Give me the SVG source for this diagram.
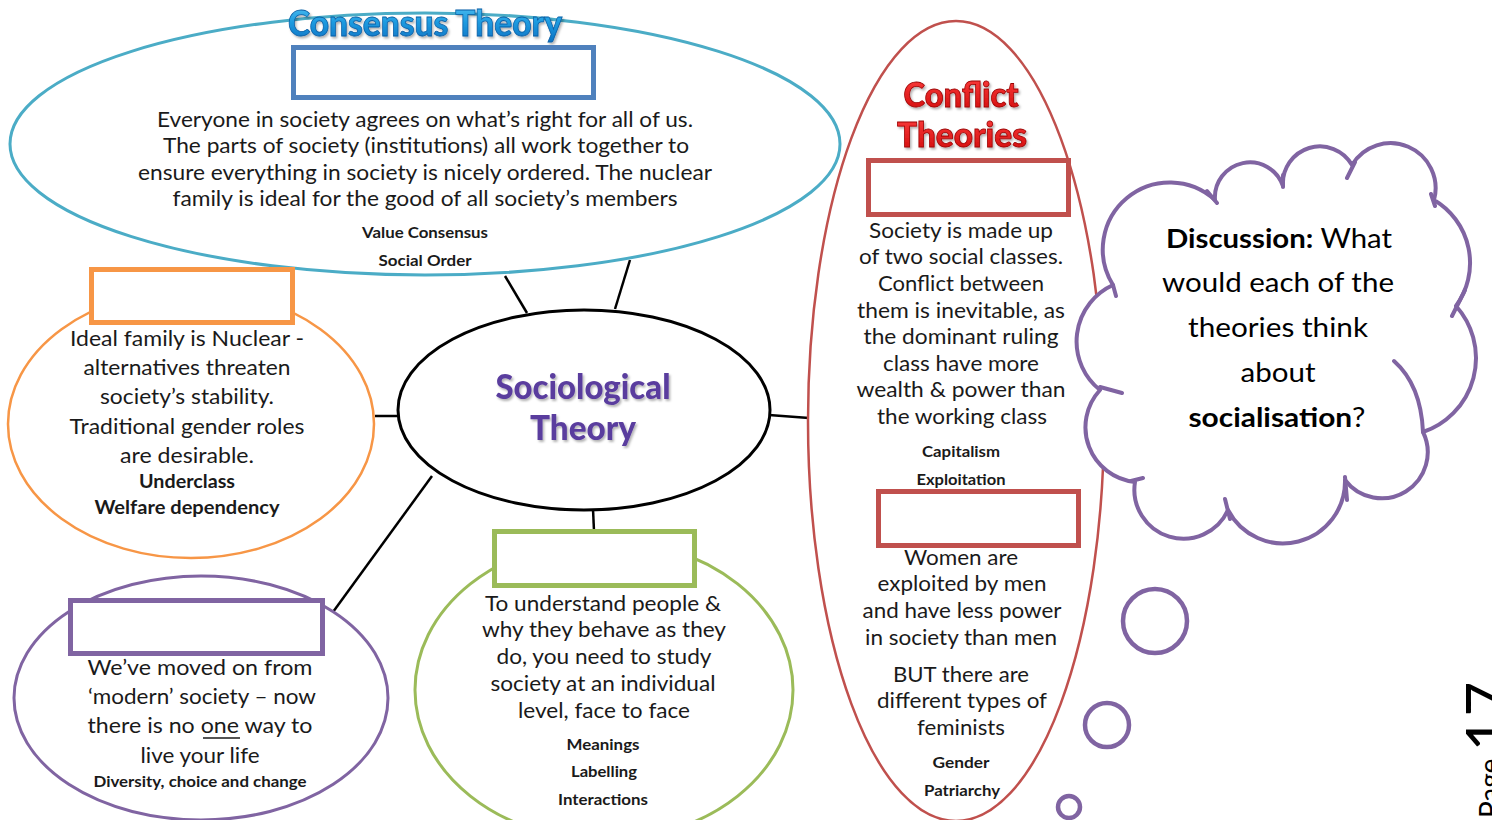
<svg xmlns="http://www.w3.org/2000/svg" width="1492" height="820" viewBox="0 0 1492 820">
<defs>
<linearGradient id="gBlue" x1="0" y1="0" x2="0" y2="1"><stop offset="0" stop-color="#5CC8F5"/><stop offset="0.5" stop-color="#1E9BE0"/><stop offset="1" stop-color="#0A6FC0"/></linearGradient>
<linearGradient id="gRed" x1="0" y1="0" x2="0" y2="1"><stop offset="0" stop-color="#FF4040"/><stop offset="1" stop-color="#D00A0A"/></linearGradient>
<filter id="sh" x="-10%" y="-20%" width="120%" height="150%"><feDropShadow dx="1.5" dy="2" stdDeviation="1" flood-color="#000" flood-opacity="0.3"/></filter>
</defs>
<style>
text{font-family:Lato,"Liberation Sans",sans-serif;text-anchor:middle;fill:#1a1a1a}
.t{font-size:22px}
.s{font-size:16px;font-weight:bold}
.box{fill:#fff;stroke-width:5}
.ell{fill:#fff}
.con line{stroke:#000;stroke-width:2.5}
.cl{fill:none;stroke:#8064A2;stroke-width:4;stroke-linecap:round;stroke-linejoin:round}
.h{font-weight:900;font-size:34px}
</style>
<rect width="1492" height="820" fill="#fff"/>

<g id="connectors" class="con">
<line x1="505" y1="276" x2="527" y2="313"/>
<line x1="630" y1="260" x2="615" y2="309"/>
<line x1="375" y1="416" x2="399" y2="416"/>
<line x1="769" y1="415" x2="809" y2="418"/>
<line x1="593" y1="509" x2="594" y2="531"/>
<line x1="432" y1="476" x2="333" y2="612"/>
</g>

<g id="consensus">
<ellipse class="ell" cx="425" cy="144" rx="415" ry="131" stroke="#4BACC6" stroke-width="3"/>
<text class="h" x="425" y="36" textLength="274" lengthAdjust="spacingAndGlyphs" stroke="#0B5FA5" stroke-width="0.8" filter="url(#sh)" style="fill:url(#gBlue);font-size:36px">Consensus Theory</text>
<rect class="box" x="293.5" y="47.5" width="300" height="50" stroke="#4F81BD"/>
<text class="t" x="425" y="127" textLength="536" lengthAdjust="spacingAndGlyphs">Everyone in society agrees on what’s right for all of us.</text>
<text class="t" x="426" y="153" textLength="526" lengthAdjust="spacingAndGlyphs">The parts of society (institutions) all work together to</text>
<text class="t" x="425" y="180" textLength="574" lengthAdjust="spacingAndGlyphs">ensure everything in society is nicely ordered. The nuclear</text>
<text class="t" x="425" y="206" textLength="505" lengthAdjust="spacingAndGlyphs">family is ideal for the good of all society’s members</text>
<text class="s" x="425" y="238" textLength="126" lengthAdjust="spacingAndGlyphs">Value Consensus</text>
<text class="s" x="425" y="266" textLength="93" lengthAdjust="spacingAndGlyphs">Social Order</text>
</g>

<g id="new-right">
<ellipse class="ell" cx="191" cy="424" rx="183" ry="134" stroke="#F79646" stroke-width="2.5"/>
<rect class="box" x="91.5" y="269.5" width="201" height="53" stroke="#F79646"/>
<text class="t" x="187" y="346" textLength="234" lengthAdjust="spacingAndGlyphs">Ideal family is Nuclear  -</text>
<text class="t" x="187" y="375" textLength="207" lengthAdjust="spacingAndGlyphs">alternatives threaten</text>
<text class="t" x="187" y="404" textLength="174" lengthAdjust="spacingAndGlyphs">society’s stability.</text>
<text class="t" x="187" y="434" textLength="235" lengthAdjust="spacingAndGlyphs">Traditional gender roles</text>
<text class="t" x="187" y="463" textLength="134" lengthAdjust="spacingAndGlyphs">are desirable.</text>
<text class="s" x="187" y="488" style="font-size:18px" textLength="96" lengthAdjust="spacingAndGlyphs">Underclass</text>
<text class="s" x="187" y="514" style="font-size:18px" textLength="185" lengthAdjust="spacingAndGlyphs">Welfare dependency</text>
</g>

<g id="postmodernism">
<ellipse class="ell" cx="201" cy="698" rx="187" ry="122" stroke="#8064A2" stroke-width="3"/>
<rect class="box" x="70.5" y="600.5" width="252" height="53" stroke="#8064A2"/>
<text class="t" x="200" y="675" textLength="225" lengthAdjust="spacingAndGlyphs">We’ve  moved on from</text>
<text class="t" x="202" y="704" textLength="228" lengthAdjust="spacingAndGlyphs">‘modern’ society – now</text>
<text class="t" x="200" y="733" textLength="225" lengthAdjust="spacingAndGlyphs">there is  no one way to</text>
<line x1="203" y1="738" x2="240" y2="738" stroke="#1a1a1a" stroke-width="1.5"/>
<text class="t" x="200" y="763" textLength="119" lengthAdjust="spacingAndGlyphs">live your life</text>
<text class="s" x="200" y="787" textLength="213" lengthAdjust="spacingAndGlyphs">Diversity, choice and change</text>
</g>

<g id="interactionism">
<ellipse class="ell" cx="604" cy="690" rx="189" ry="150" stroke="#9BBB59" stroke-width="3"/>
<rect class="box" x="494.5" y="531.5" width="200" height="54" stroke="#9BBB59"/>
<text class="t" x="603" y="611" textLength="236" lengthAdjust="spacingAndGlyphs">To understand people &amp;</text>
<text class="t" x="604" y="637" textLength="244" lengthAdjust="spacingAndGlyphs">why they behave as they</text>
<text class="t" x="604" y="664" textLength="215" lengthAdjust="spacingAndGlyphs">do, you need to study</text>
<text class="t" x="603" y="691" textLength="225" lengthAdjust="spacingAndGlyphs">society at an individual</text>
<text class="t" x="604" y="718" textLength="172" lengthAdjust="spacingAndGlyphs">level, face to face</text>
<text class="s" x="603" y="750" textLength="73" lengthAdjust="spacingAndGlyphs">Meanings</text>
<text class="s" x="604" y="777" textLength="66" lengthAdjust="spacingAndGlyphs">Labelling</text>
<text class="s" x="603" y="805" textLength="90" lengthAdjust="spacingAndGlyphs">Interactions</text>
</g>

<g id="conflict">
<ellipse class="ell" cx="956" cy="421" rx="148" ry="400" stroke="#C0504D" stroke-width="2.5"/>
<text class="h" x="961" y="107" textLength="115" lengthAdjust="spacingAndGlyphs" stroke="#9B0000" stroke-width="0.8" filter="url(#sh)" style="fill:url(#gRed)">Conflict</text>
<text class="h" x="962" y="147" textLength="130" lengthAdjust="spacingAndGlyphs" stroke="#9B0000" stroke-width="0.8" filter="url(#sh)" style="fill:url(#gRed)">Theories</text>
<rect class="box" x="868.5" y="160.5" width="200" height="54" stroke="#C0504D"/>
<text class="t" x="961" y="238" textLength="184" lengthAdjust="spacingAndGlyphs">Society is made up</text>
<text class="t" x="961" y="264" textLength="204" lengthAdjust="spacingAndGlyphs">of two social classes.</text>
<text class="t" x="961" y="291" textLength="166" lengthAdjust="spacingAndGlyphs">Conflict between</text>
<text class="t" x="961" y="318" textLength="208" lengthAdjust="spacingAndGlyphs">them is inevitable, as</text>
<text class="t" x="961" y="344" textLength="195" lengthAdjust="spacingAndGlyphs">the dominant ruling</text>
<text class="t" x="961" y="371" textLength="156" lengthAdjust="spacingAndGlyphs">class have more</text>
<text class="t" x="961" y="397" textLength="209" lengthAdjust="spacingAndGlyphs">wealth &amp; power than</text>
<text class="t" x="962" y="424" textLength="170" lengthAdjust="spacingAndGlyphs">the working class</text>
<text class="s" x="961" y="457" textLength="78" lengthAdjust="spacingAndGlyphs">Capitalism</text>
<text class="s" x="961" y="485" textLength="89" lengthAdjust="spacingAndGlyphs">Exploitation</text>
<rect class="box" x="878.5" y="491.5" width="200" height="54" stroke="#C0504D"/>
<text class="t" x="961" y="565" textLength="114" lengthAdjust="spacingAndGlyphs">Women are</text>
<text class="t" x="962" y="591" textLength="169" lengthAdjust="spacingAndGlyphs">exploited by men</text>
<text class="t" x="962" y="618" textLength="199" lengthAdjust="spacingAndGlyphs">and have less power</text>
<text class="t" x="961" y="645" textLength="192" lengthAdjust="spacingAndGlyphs">in society than men</text>
<text class="t" x="961" y="682" textLength="136" lengthAdjust="spacingAndGlyphs">BUT there are</text>
<text class="t" x="962" y="708" textLength="170" lengthAdjust="spacingAndGlyphs">different types of</text>
<text class="t" x="961" y="735" textLength="88" lengthAdjust="spacingAndGlyphs">feminists</text>
<text class="s" x="961" y="768" textLength="57" lengthAdjust="spacingAndGlyphs">Gender</text>
<text class="s" x="962" y="796" textLength="76" lengthAdjust="spacingAndGlyphs">Patriarchy</text>
</g>

<g id="center">
<ellipse class="ell" cx="584" cy="410" rx="186" ry="100" stroke="#000" stroke-width="3"/>
<text x="583" y="399" font-size="34" font-weight="900" textLength="175" lengthAdjust="spacingAndGlyphs" filter="url(#sh)" style="fill:#5A3E9E">Sociological</text>
<text x="583" y="440" font-size="34" font-weight="900" textLength="106" lengthAdjust="spacingAndGlyphs" filter="url(#sh)" style="fill:#5A3E9E">Theory</text>
</g>

<g id="discussion">
<path class="cl" style="fill:#fff" d="M1113,285 A67,67 0 0 1 1215,200 A35,35 0 0 1 1283,186 A37,37 0 0 1 1352,165 A45,45 0 0 1 1434,200 A73,73 0 0 1 1456,306 A78,78 0 0 1 1423,432 A46,46 0 0 1 1345,480 A62,62 0 0 1 1228,510 A49,49 0 0 1 1135,482 A55,55 0 0 1 1100,390 A62,62 0 0 1 1113,285 Z"/>
<path class="cl" d="M1113,285 L1116,296 M1207,191 L1217,203 M1283,175 L1283,187 M1355,162 L1347,178 M1431,194 L1435,206 M1465,290 L1452,316 M1394,361 Q1421,385 1423,432 M1347,500 L1345,477 M1230,519 L1225,499 M1131,481 L1143,478 M1100,387 L1122,393"/>
<text x="1279" y="248" font-size="27" textLength="226" lengthAdjust="spacingAndGlyphs" style="fill:#000"><tspan font-weight="bold">Discussion:</tspan> What</text>
<text x="1278" y="292" font-size="27" textLength="232" lengthAdjust="spacingAndGlyphs" style="fill:#000">would each of the</text>
<text x="1278" y="337" font-size="27" textLength="180" lengthAdjust="spacingAndGlyphs" style="fill:#000">theories think</text>
<text x="1278" y="382" font-size="27" textLength="75" lengthAdjust="spacingAndGlyphs" style="fill:#000">about</text>
<text x="1277" y="427" font-size="27" textLength="177" lengthAdjust="spacingAndGlyphs" style="fill:#000"><tspan font-weight="bold">socialisation</tspan>?</text>
<circle cx="1155" cy="621" r="32" fill="none" stroke="#8064A2" stroke-width="4.5"/>
<circle cx="1107" cy="725" r="22" fill="none" stroke="#8064A2" stroke-width="4.5"/>
<circle cx="1069" cy="807" r="11" fill="none" stroke="#8064A2" stroke-width="4.5"/>
</g>

<g id="page-number">
<text transform="translate(1500,820) rotate(-90)" x="2" y="0" style="text-anchor:start;fill:#000;font-size:28px">Page <tspan dy="9" style="font-size:60px">17</tspan></text>
</g>
</svg>
